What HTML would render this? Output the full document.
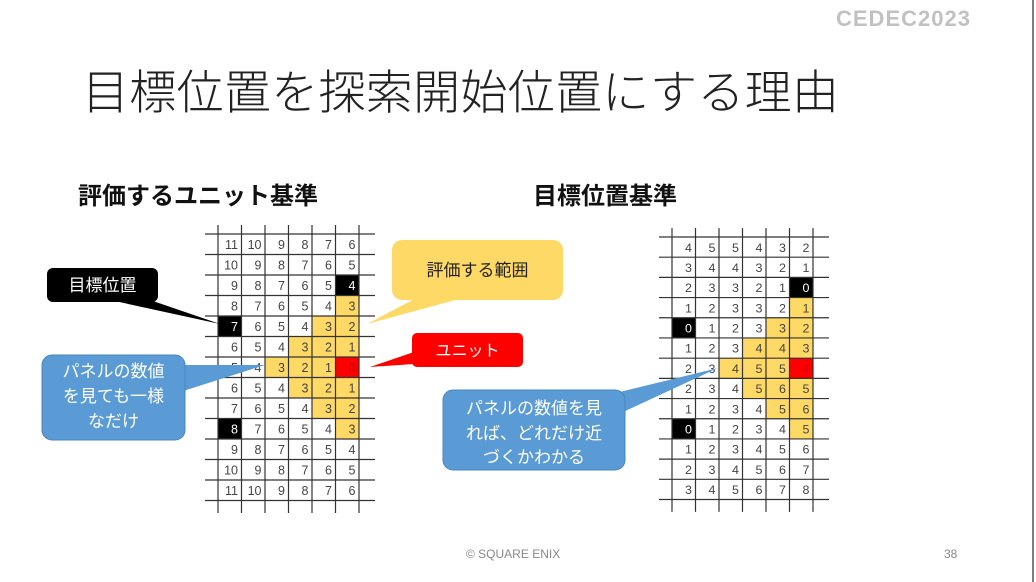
<!DOCTYPE html>
<html><head><meta charset="utf-8"><style>
html,body{margin:0;padding:0;background:#fff;}
body{width:1036px;height:582px;overflow:hidden;position:relative;font-family:"Liberation Sans","Noto Sans CJK JP",sans-serif;}
svg{position:absolute;left:0;top:0;}
.t{position:absolute;white-space:nowrap;}
</style></head><body>
<svg width="1036" height="582" viewBox="0 0 1036 582" font-family="Liberation Sans, Noto Sans CJK JP, sans-serif">
<defs>
<g id="lines">
<g stroke="#333" stroke-width="1.2">
<line x1="-13" y1="0" x2="157" y2="0"/><line x1="-13" y1="20.5" x2="157" y2="20.5"/><line x1="-13" y1="41" x2="157" y2="41"/><line x1="-13" y1="61.5" x2="157" y2="61.5"/><line x1="-13" y1="82" x2="157" y2="82"/><line x1="-13" y1="102.5" x2="157" y2="102.5"/><line x1="-13" y1="123" x2="157" y2="123"/><line x1="-13" y1="143.5" x2="157" y2="143.5"/><line x1="-13" y1="164" x2="157" y2="164"/><line x1="-13" y1="184.5" x2="157" y2="184.5"/><line x1="-13" y1="205" x2="157" y2="205"/><line x1="-13" y1="225.5" x2="157" y2="225.5"/><line x1="-13" y1="246" x2="157" y2="246"/><line x1="-13" y1="266.5" x2="157" y2="266.5"/>
<line x1="0" y1="-9" x2="0" y2="279"/><line x1="23.5" y1="-9" x2="23.5" y2="279"/><line x1="47" y1="-9" x2="47" y2="279"/><line x1="70.5" y1="-9" x2="70.5" y2="279"/><line x1="94" y1="-9" x2="94" y2="279"/><line x1="117.5" y1="-9" x2="117.5" y2="279"/><line x1="141" y1="-9" x2="141" y2="279"/>
</g></g>
<g id="fills">
<rect x="117.5" y="41" width="23.5" height="20.5" fill="#000"/>
<rect x="117.5" y="61.5" width="23.5" height="20.5" fill="#ffd966"/>
<rect x="0" y="82" width="23.5" height="20.5" fill="#000"/>
<rect x="94" y="82" width="47" height="20.5" fill="#ffd966"/>
<rect x="70.5" y="102.5" width="70.5" height="20.5" fill="#ffd966"/>
<rect x="47" y="123" width="70.5" height="20.5" fill="#ffd966"/>
<rect x="117.5" y="123" width="23.5" height="20.5" fill="#f00"/>
<rect x="70.5" y="143.5" width="70.5" height="20.5" fill="#ffd966"/>
<rect x="94" y="164" width="47" height="20.5" fill="#ffd966"/>
<rect x="0" y="184.5" width="23.5" height="20.5" fill="#000"/>
<rect x="117.5" y="184.5" width="23.5" height="20.5" fill="#ffd966"/>
</g>
</defs>

<!-- left grid -->
<g transform="translate(218,234)">
<use href="#fills"/>
<use href="#lines"/>
<g font-size="12.5" fill="#444" text-anchor="end">
<g transform="translate(0,15)"><text x="20">11</text><text x="43.5">10</text><text x="67">9</text><text x="90.5">8</text><text x="114">7</text><text x="137.5">6</text></g>
<g transform="translate(0,35.5)"><text x="20">10</text><text x="43.5">9</text><text x="67">8</text><text x="90.5">7</text><text x="114">6</text><text x="137.5">5</text></g>
<g transform="translate(0,56)"><text x="20">9</text><text x="43.5">8</text><text x="67">7</text><text x="90.5">6</text><text x="114">5</text><text x="137.5" fill="#fff">4</text></g>
<g transform="translate(0,76.5)"><text x="20">8</text><text x="43.5">7</text><text x="67">6</text><text x="90.5">5</text><text x="114">4</text><text x="137.5">3</text></g>
<g transform="translate(0,97)"><text x="20" fill="#fff">7</text><text x="43.5">6</text><text x="67">5</text><text x="90.5">4</text><text x="114">3</text><text x="137.5">2</text></g>
<g transform="translate(0,117.5)"><text x="20">6</text><text x="43.5">5</text><text x="67">4</text><text x="90.5">3</text><text x="114">2</text><text x="137.5">1</text></g>
<g transform="translate(0,138)"><text x="20">5</text><text x="43.5">4</text><text x="67">3</text><text x="90.5">2</text><text x="114">1</text><text x="137.5" fill="#c00">0</text></g>
<g transform="translate(0,158.5)"><text x="20">6</text><text x="43.5">5</text><text x="67">4</text><text x="90.5">3</text><text x="114">2</text><text x="137.5">1</text></g>
<g transform="translate(0,179)"><text x="20">7</text><text x="43.5">6</text><text x="67">5</text><text x="90.5">4</text><text x="114">3</text><text x="137.5">2</text></g>
<g transform="translate(0,199.5)"><text x="20" fill="#fff">8</text><text x="43.5">7</text><text x="67">6</text><text x="90.5">5</text><text x="114">4</text><text x="137.5">3</text></g>
<g transform="translate(0,220)"><text x="20">9</text><text x="43.5">8</text><text x="67">7</text><text x="90.5">6</text><text x="114">5</text><text x="137.5">4</text></g>
<g transform="translate(0,240.5)"><text x="20">10</text><text x="43.5">9</text><text x="67">8</text><text x="90.5">7</text><text x="114">6</text><text x="137.5">5</text></g>
<g transform="translate(0,261)"><text x="20">11</text><text x="43.5">10</text><text x="67">9</text><text x="90.5">8</text><text x="114">7</text><text x="137.5">6</text></g>
</g></g>

<!-- right grid -->
<g transform="translate(672,237) scale(1,0.985)">
<use href="#fills"/>
<use href="#lines"/>
<g font-size="12.5" fill="#444" text-anchor="end">
<g transform="translate(0,15)"><text x="20">4</text><text x="43.5">5</text><text x="67">5</text><text x="90.5">4</text><text x="114">3</text><text x="137.5">2</text></g>
<g transform="translate(0,35.5)"><text x="20">3</text><text x="43.5">4</text><text x="67">4</text><text x="90.5">3</text><text x="114">2</text><text x="137.5">1</text></g>
<g transform="translate(0,56)"><text x="20">2</text><text x="43.5">3</text><text x="67">3</text><text x="90.5">2</text><text x="114">1</text><text x="137.5" fill="#fff">0</text></g>
<g transform="translate(0,76.5)"><text x="20">1</text><text x="43.5">2</text><text x="67">3</text><text x="90.5">3</text><text x="114">2</text><text x="137.5">1</text></g>
<g transform="translate(0,97)"><text x="20" fill="#fff">0</text><text x="43.5">1</text><text x="67">2</text><text x="90.5">3</text><text x="114">3</text><text x="137.5">2</text></g>
<g transform="translate(0,117.5)"><text x="20">1</text><text x="43.5">2</text><text x="67">3</text><text x="90.5">4</text><text x="114">4</text><text x="137.5">3</text></g>
<g transform="translate(0,138)"><text x="20">2</text><text x="43.5">3</text><text x="67">4</text><text x="90.5">5</text><text x="114">5</text><text x="137.5" fill="#c00">4</text></g>
<g transform="translate(0,158.5)"><text x="20">2</text><text x="43.5">3</text><text x="67">4</text><text x="90.5">5</text><text x="114">6</text><text x="137.5">5</text></g>
<g transform="translate(0,179)"><text x="20">1</text><text x="43.5">2</text><text x="67">3</text><text x="90.5">4</text><text x="114">5</text><text x="137.5">6</text></g>
<g transform="translate(0,199.5)"><text x="20" fill="#fff">0</text><text x="43.5">1</text><text x="67">2</text><text x="90.5">3</text><text x="114">4</text><text x="137.5">5</text></g>
<g transform="translate(0,220)"><text x="20">1</text><text x="43.5">2</text><text x="67">3</text><text x="90.5">4</text><text x="114">5</text><text x="137.5">6</text></g>
<g transform="translate(0,240.5)"><text x="20">2</text><text x="43.5">3</text><text x="67">4</text><text x="90.5">5</text><text x="114">6</text><text x="137.5">7</text></g>
<g transform="translate(0,261)"><text x="20">3</text><text x="43.5">4</text><text x="67">5</text><text x="90.5">6</text><text x="114">7</text><text x="137.5">8</text></g>
</g></g>

<!-- callouts -->
<polygon points="110,300 150,300 220,324" fill="#000"/>
<rect x="47" y="268" width="111" height="34" rx="6" fill="#000"/>
<text x="102.5" y="291" font-size="17" fill="#fff" text-anchor="middle">目標位置</text>

<polygon points="180,365 180,392 265,365" fill="#5b9bd5"/>
<rect x="42" y="355" width="143" height="85" rx="10" fill="#5b9bd5" stroke="#4a86bd" stroke-width="1"/>
<g font-size="17" fill="#fff" text-anchor="middle"><text x="113.5" y="377">パネルの数値</text><text x="113.5" y="402">を見ても一様</text><text x="113.5" y="427">なだけ</text></g>

<polygon points="420,296 470,296 367,324" fill="#ffd966"/>
<rect x="392" y="240" width="171" height="60" rx="10" fill="#ffd966"/>
<text x="477.5" y="276" font-size="17" fill="#222" text-anchor="middle">評価する範囲</text>

<polygon points="414,352 414,364 370,367" fill="#f00"/>
<rect x="412" y="333" width="111" height="34" rx="5" fill="#f00"/>
<text x="467.5" y="356" font-size="16" fill="#fff" text-anchor="middle">ユニット</text>

<polygon points="595,398 595,425 718,368" fill="#5b9bd5"/>
<rect x="443" y="390" width="182" height="80" rx="10" fill="#5b9bd5" stroke="#4a86bd" stroke-width="1"/>
<g font-size="17" fill="#fff" text-anchor="middle"><text x="534" y="414">パネルの数値を見</text><text x="534" y="439">れば、どれだけ近</text><text x="534" y="463">づくかわかる</text></g>

<!-- logo -->
<text x="836" y="26" font-size="22" font-weight="bold" fill="#999" opacity="0.6" letter-spacing="1">CEDEC2023</text>
<line x1="1033" y1="0" x2="1033" y2="582" stroke="#555" stroke-width="1.5"/>
</svg>
<div class="t" style="left:82px;top:54px;font-size:47px;font-weight:300;color:#222;letter-spacing:0.3px;">目標位置を探索開始位置にする理由</div>
<div class="t" style="left:78px;top:176px;font-size:24px;font-weight:bold;color:#111;">評価するユニット基準</div>
<div class="t" style="left:533px;top:176px;font-size:24px;font-weight:bold;color:#111;">目標位置基準</div>
<div class="t" style="left:466px;top:547px;font-size:12px;color:#888;">© SQUARE ENIX</div>
<div class="t" style="left:944px;top:547px;font-size:12px;color:#888;">38</div>
</body></html>
